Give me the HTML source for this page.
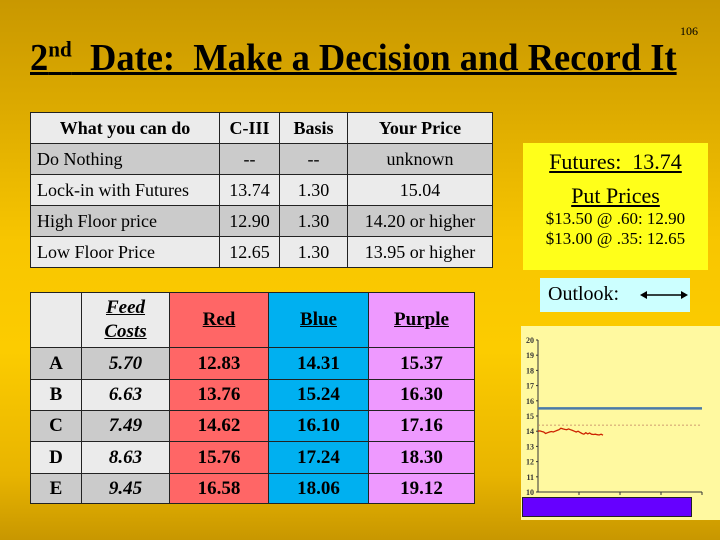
<!DOCTYPE html>
<html><head><meta charset="utf-8"><style>
body{margin:0;width:720px;height:540px;overflow:hidden;font-family:"Liberation Serif","Times New Roman","DejaVu Serif",serif;}
#bg{position:absolute;left:0;top:0;width:720px;height:540px;background:linear-gradient(#c99800 0%,#dcaa00 20%,#f8c600 45%,#fccc00 65%,#e8b400 88%,#c89700 100%);}
.abs{position:absolute}
table{border-collapse:collapse;position:absolute;font-family:"Liberation Serif","Times New Roman","DejaVu Serif",serif;}
td{border:1.5px solid #222;padding:0;color:#000}
#t1 td{font-size:18px;height:30px}
#t2 td{font-size:19px;font-weight:bold;text-align:center}
</style></head><body>
<div id="bg"></div>
<div class="abs" style="left:680px;top:24px;font-size:12px;">106</div>
<div class="abs" style="left:30px;top:36px;font-size:38px;font-weight:bold;text-decoration:underline;white-space:nowrap;transform:scaleX(0.96);transform-origin:left;">2<sup style="font-size:22px">nd</sup>&nbsp; Date:&nbsp; Make a Decision and Record It</div>

<table id="t1" style="left:30px;top:112px;width:463px;">
<tr style="background:#ebebeb;font-weight:bold"><td style="width:188px;text-align:center;font-weight:bold">What you can do</td><td style="width:59px;text-align:center;font-weight:bold">C-III</td><td style="width:67px;text-align:center;font-weight:bold">Basis</td><td style="text-align:center;font-weight:bold">Your Price</td></tr>
<tr style="background:#cbcbcb"><td style="padding-left:6px">Do Nothing</td><td style="text-align:center">--</td><td style="text-align:center">--</td><td style="text-align:center">unknown</td></tr>
<tr style="background:#ebebeb"><td style="padding-left:6px">Lock-in with Futures</td><td style="text-align:center">13.74</td><td style="text-align:center">1.30</td><td style="text-align:center">15.04</td></tr>
<tr style="background:#cbcbcb"><td style="padding-left:6px">High Floor price</td><td style="text-align:center">12.90</td><td style="text-align:center">1.30</td><td style="text-align:center">14.20 or higher</td></tr>
<tr style="background:#ebebeb"><td style="padding-left:6px">Low Floor Price</td><td style="text-align:center">12.65</td><td style="text-align:center">1.30</td><td style="text-align:center">13.95 or higher</td></tr>
</table>

<div class="abs" style="left:523px;top:143px;width:185px;height:127px;background:#ffff1a;text-align:center;">
<div style="margin-top:6px;font-size:22px;text-decoration:underline">Futures:&nbsp; 13.74</div>
<div style="margin-top:8px;font-size:22px;text-decoration:underline">Put Prices</div>
<div style="font-size:17px;line-height:20px">$13.50 @ .60: 12.90</div>
<div style="font-size:17px;line-height:20px">$13.00 @ .35: 12.65</div>
</div>

<div class="abs" style="left:540px;top:278px;width:150px;height:34px;background:#ccffff;">
<span style="position:absolute;left:8px;top:5px;font-size:20px">Outlook:</span>
<svg style="position:absolute;left:100px;top:10px" width="48" height="14"><line x1="4" y1="7" x2="44" y2="7" stroke="#000" stroke-width="1.5"/><path d="M0 7 L7 3 L7 11Z M48 7 L41 3 L41 11Z" fill="#000"/></svg>
</div>

<table id="t2" style="left:30px;top:292px;width:445px;">
<tr style="height:55px"><td style="width:50px;background:#ebebeb"></td><td style="width:87px;background:#ebebeb;font-style:italic;text-decoration:underline;line-height:24px">Feed<br>Costs</td><td style="width:98px;background:#ff6666;text-decoration:underline">Red</td><td style="width:99px;background:#00b0f0;text-decoration:underline">Blue</td><td style="background:#ee99ff;text-decoration:underline">Purple</td></tr>
<tr style="height:32px"><td style="background:#cbcbcb">A</td><td style="background:#cbcbcb;font-style:italic">5.70</td><td style="background:#ff6666">12.83</td><td style="background:#00b0f0">14.31</td><td style="background:#ee99ff">15.37</td></tr>
<tr style="height:31px"><td style="background:#ebebeb">B</td><td style="background:#ebebeb;font-style:italic">6.63</td><td style="background:#ff6666">13.76</td><td style="background:#00b0f0">15.24</td><td style="background:#ee99ff">16.30</td></tr>
<tr style="height:31px"><td style="background:#cbcbcb">C</td><td style="background:#cbcbcb;font-style:italic">7.49</td><td style="background:#ff6666">14.62</td><td style="background:#00b0f0">16.10</td><td style="background:#ee99ff">17.16</td></tr>
<tr style="height:32px"><td style="background:#ebebeb">D</td><td style="background:#ebebeb;font-style:italic">8.63</td><td style="background:#ff6666">15.76</td><td style="background:#00b0f0">17.24</td><td style="background:#ee99ff">18.30</td></tr>
<tr style="height:30px"><td style="background:#cbcbcb">E</td><td style="background:#cbcbcb;font-style:italic">9.45</td><td style="background:#ff6666">16.58</td><td style="background:#00b0f0">18.06</td><td style="background:#ee99ff">19.12</td></tr>
</table>

<div class="abs" style="left:521px;top:326px;width:199px;height:194px;background:#fff9a0;">
<svg id="chart" width="199" height="194"></svg>
<div style="position:absolute;left:1px;top:171px;width:168px;height:18px;background:#6600ff;border:1px solid #222"></div>
</div>

<script>
const yTicks=[10,11,12,13,14,15,16,17,18,19,20];
const blueLevel=15.5;
const dashedLevel=14.4;
const redSeries=[14.0,14.02,13.98,13.95,13.85,13.9,13.95,13.98,13.95,14.0,14.05,14.1,14.2,14.15,14.12,14.1,14.15,14.1,14.05,14.0,13.95,14.0,13.92,13.85,13.8,13.9,13.82,13.88,13.8,13.78,13.8,13.77,13.75,13.8,13.74];
const xTickCount=4;
const svg=document.getElementById('chart');
const NS='http://www.w3.org/2000/svg';
const x0=17,x1=181,yTop=14,yBot=166;
const ys=v=>yBot-(v-10)/(20-10)*(yBot-yTop);
function mk(t,a){const e=document.createElementNS(NS,t);for(const k in a)e.setAttribute(k,a[k]);svg.appendChild(e);return e;}
const ya=mk('line',{x1:x0,y1:yTop,x2:x0,y2:yBot,stroke:'#333','stroke-width':1});


const xa=mk('line',{x1:x0,y1:yBot,x2:x1,y2:yBot,stroke:'#333','stroke-width':1});


yTicks.forEach(v=>{
  const t=mk('text',{x:x0-4,y:ys(v)+3,'font-size':8,'text-anchor':'end','font-family':'Liberation Serif, serif','font-weight':'bold',fill:'#333'});
  t.textContent=v;
  
  
  mk('line',{x1:x0-2,y1:ys(v),x2:x0,y2:ys(v),stroke:'#333'});
});
for(let i=1;i<=xTickCount;i++){const xx=x0+i*(x1-x0)/xTickCount;const tk=mk('line',{x1:xx,y1:yBot,x2:xx,y2:yBot+3,stroke:'#333'});

}
const dl=mk('line',{x1:x0,y1:ys(dashedLevel),x2:x1,y2:ys(dashedLevel),stroke:'#c08060','stroke-width':0.8,'stroke-dasharray':'2,2'});


const bl=mk('line',{x1:x0,y1:ys(blueLevel),x2:x1,y2:ys(blueLevel),stroke:'#4a7aa8','stroke-width':2.5});


const stepPx=65/(redSeries.length-1);
const pts=redSeries.map((v,i)=>(x0+i*stepPx).toFixed(1)+','+ys(v).toFixed(1)).join(' ');
const rl=mk('polyline',{points:pts,fill:'none',stroke:'#cc2200','stroke-width':1.3});


</script>
</body></html>
